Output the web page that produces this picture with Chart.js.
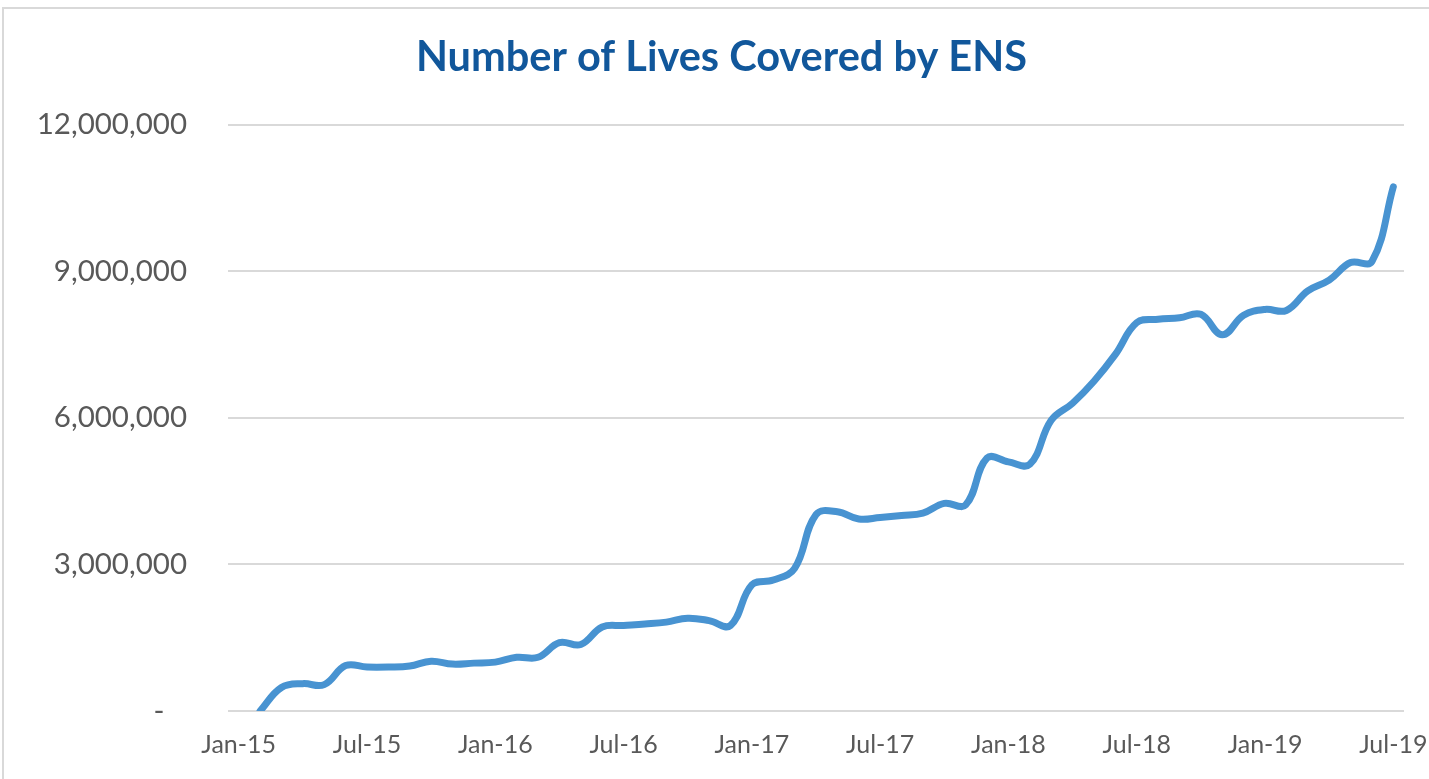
<!DOCTYPE html>
<html>
<head>
<meta charset="utf-8">
<script src="https://cdn.jsdelivr.net/npm/chart.js@4.4.1/dist/chart.umd.min.js"></script>
<style>
  html, body { margin: 0; padding: 0; background: #ffffff; overflow: hidden; }
  #frame { position: absolute; left: 2px; top: 7px; width: 1500px; height: 900px; border: 2px solid #d9d9d9; box-sizing: border-box; }
  #wrap { position: absolute; left: 0; top: 0; width: 1429px; height: 779px; }
</style>
</head>
<body>
<div id="frame"></div>
<div id="wrap"><canvas id="c" width="1429" height="779"></canvas></div>
<script>
const chartTitle = 'Number of Lives Covered by ENS';

const months = [
  'Jan-15','Feb-15','Mar-15','Apr-15','May-15','Jun-15','Jul-15','Aug-15','Sep-15','Oct-15','Nov-15','Dec-15',
  'Jan-16','Feb-16','Mar-16','Apr-16','May-16','Jun-16','Jul-16','Aug-16','Sep-16','Oct-16','Nov-16','Dec-16',
  'Jan-17','Feb-17','Mar-17','Apr-17','May-17','Jun-17','Jul-17','Aug-17','Sep-17','Oct-17','Nov-17','Dec-17',
  'Jan-18','Feb-18','Mar-18','Apr-18','May-18','Jun-18','Jul-18','Aug-18','Sep-18','Oct-18','Nov-18','Dec-18',
  'Jan-19','Feb-19','Mar-19','Apr-19','May-19','Jun-19','Jul-19'
];

const livesCovered = [
  null,    0,       480000,  560000,  540000,  930000,  900000,  900000,  920000,  1020000, 960000,  980000,
  1000000, 1100000, 1100000, 1400000, 1360000, 1720000, 1750000, 1780000, 1820000, 1900000, 1850000, 1750000,
  2580000, 2680000, 2920000, 4020000, 4080000, 3930000, 3960000, 4000000, 4050000, 4250000, 4220000, 5180000,
  5100000, 5050000, 5950000, 6300000, 6750000, 7300000, 7950000, 8020000, 8050000, 8120000, 7700000, 8100000,
  8220000, 8200000, 8600000, 8820000, 9180000, 9200000, 10730000
];

const yTicks = [0, 3000000, 6000000, 9000000, 12000000];

new Chart(document.getElementById('c'), {
  type: 'line',
  data: {
    labels: months,
    datasets: [{
      label: 'Lives covered',
      data: livesCovered,
      borderColor: '#4893d1',
      borderWidth: 7,
      borderCapStyle: 'round',
      borderJoinStyle: 'round',
      pointRadius: 0,
      pointHoverRadius: 0,
      tension: 0.4,
      fill: false
    }]
  },
  options: {
    responsive: false,
    animation: false,
    layout: { padding: { top: 0, left: 14, right: 0, bottom: 0 } },
    plugins: {
      legend: { display: false },
      tooltip: { enabled: false },
      title: {
        display: true,
        text: chartTitle,
        color: '#11579b',
        font: { family: 'Lato', size: 41.5, weight: 'bold', lineHeight: 1.2 },
        padding: { top: 33, bottom: 42 }
      }
    },
    scales: {
      x: {
        type: 'category',
        offset: true,
        grid: { display: false, drawTicks: false },
        border: { display: false },
        ticks: {
          autoSkip: false,
          maxRotation: 0,
          minRotation: 0,
          padding: 19,
          color: '#595959',
          font: { family: 'Lato', size: 25 },
          callback: function(v, i) { return i % 6 === 0 ? months[i] : ''; }
        },
        afterFit: function(axis) { axis.height = 68; axis.paddingLeft = 0; axis.paddingRight = 0; }
      },
      y: {
        min: 0,
        max: 12000000,
        afterBuildTicks: function(axis) { axis.ticks = yTicks.map(v => ({ value: v })); },
        grid: { color: '#d9d9d9', lineWidth: 2, drawTicks: false },
        border: { display: false },
        ticks: {
          padding: 41,
          color: '#595959',
          font: { family: 'Lato', size: 29.5 },
          callback: function(v) { return v === 0 ? '-   ' : v.toLocaleString('en-US'); }
        },
        afterFit: function(axis) { axis.width = 214; }
      },
      yRightSpace: {
        type: 'linear',
        position: 'right',
        display: true,
        grid: { display: false, drawTicks: false },
        border: { display: false },
        ticks: { display: false },
        afterFit: function(axis) { axis.width = 25; }
      }
    }
  }
});
</script>
</body>
</html>
